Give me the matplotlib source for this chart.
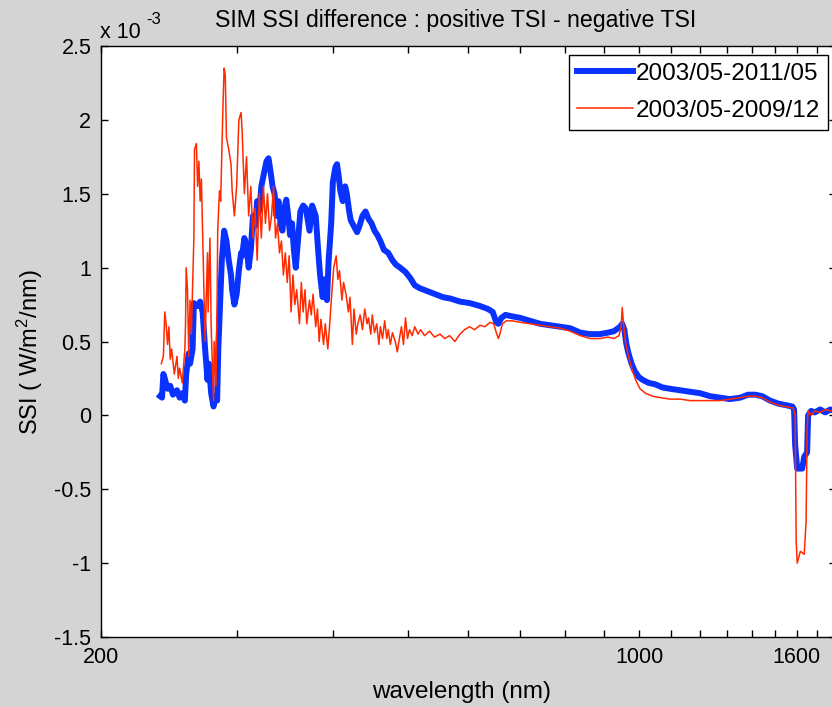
import numpy as np
import matplotlib
matplotlib.use("Agg")
import matplotlib.pyplot as plt
from matplotlib.ticker import FixedLocator, NullFormatter

plt.rcParams["font.family"] = ["Liberation Sans", "DejaVu Sans"]
plt.rcParams["mathtext.fontset"] = "custom"
plt.rcParams["mathtext.rm"] = "Liberation Sans"
plt.rcParams["mathtext.it"] = "Liberation Sans"

# SSI difference, units of 1e-3 W/m^2/nm
wl_long = [238.6, 240, 241, 242, 244, 246, 248, 251, 253, 255, 257, 258, 260, 261, 263, 264, 267, 269, 271, 273,
           275, 276, 278, 280, 281, 283, 284, 286, 287, 289, 291, 293, 295, 296, 298, 300, 302, 304, 305, 307,
           309, 311, 313, 315, 317, 319, 321, 323, 325, 328, 330, 332, 334, 336, 338, 340, 342, 344, 346, 348,
           350, 352, 354, 356, 358, 360, 363, 366, 369, 373, 376, 380, 383, 385, 388, 390, 393, 395, 398, 400,
           403, 405, 407, 409, 412, 415, 417, 420, 422, 426, 430, 433, 437, 441, 445, 449, 453, 457, 461, 466,
           472, 478, 483, 489, 497, 504, 511, 519, 531, 543, 556, 569, 585, 602, 621, 636, 645, 652, 656, 662,
           670, 684, 700, 721, 743, 766, 789, 813, 838, 863, 889, 910, 927, 944, 950, 956, 962, 968, 977, 986,
           998, 1010, 1028, 1049, 1070, 1096, 1130, 1164, 1199, 1235, 1273, 1311, 1352, 1384, 1414, 1443, 1478,
           1514, 1546, 1580, 1588, 1593, 1603, 1627, 1637, 1651, 1656, 1671, 1689, 1717, 1743, 1770, 1800]
ssi_long = [0.13, 0.12, 0.28, 0.25, 0.18, 0.20, 0.14, 0.17, 0.12, 0.15, 0.10, 0.28, 0.42, 0.35, 0.45, 0.76, 0.74,
            0.77, 0.70, 0.45, 0.24, 0.35, 0.15, 0.06, 0.12, 0.10, 0.45, 0.85, 1.05, 1.25, 1.18, 1.05, 0.95, 0.85,
            0.75, 0.82, 0.98, 1.10, 1.08, 1.20, 1.15, 1.00, 1.12, 1.35, 1.28, 1.45, 1.38, 1.55, 1.62, 1.72, 1.74,
            1.65, 1.55, 1.50, 1.35, 1.45, 1.30, 1.25, 1.40, 1.46, 1.35, 1.22, 1.30, 1.12, 1.00, 1.15, 1.38, 1.42,
            1.40, 1.25, 1.42, 1.35, 1.10, 0.95, 0.80, 0.92, 0.78, 1.05, 1.30, 1.58, 1.68, 1.70, 1.62, 1.52, 1.45,
            1.55, 1.50, 1.38, 1.32, 1.28, 1.24, 1.28, 1.35, 1.38, 1.33, 1.30, 1.25, 1.22, 1.18, 1.12, 1.10, 1.05,
            1.02, 1.00, 0.97, 0.93, 0.88, 0.86, 0.84, 0.82, 0.80, 0.79, 0.77, 0.76, 0.74, 0.72, 0.70, 0.63, 0.62,
            0.66, 0.68, 0.67, 0.66, 0.64, 0.62, 0.61, 0.60, 0.59, 0.56, 0.55, 0.55, 0.56, 0.57, 0.60, 0.62, 0.58,
            0.48, 0.42, 0.35, 0.30, 0.26, 0.24, 0.22, 0.21, 0.19, 0.18, 0.17, 0.16, 0.15, 0.13, 0.12, 0.11, 0.12,
            0.14, 0.14, 0.13, 0.10, 0.08, 0.07, 0.06, 0.04, -0.20, -0.36, -0.36, -0.28, -0.25, 0.00, 0.03, 0.02,
            0.04, 0.02, 0.04, 0.03]

wl_short = [239.5, 241, 242, 243, 244, 245, 246, 247, 249, 251, 252, 253, 255, 257, 257.5, 258, 259, 260, 261, 262,
            264, 264.5, 266, 267, 268, 269, 270, 272, 273, 275, 275.5, 277, 278, 280, 280.5, 282, 283, 283.5, 285,
            286, 288, 289, 290, 291, 293, 295, 296, 298, 300, 302, 304, 305, 307, 309, 311, 313, 315, 317, 319, 321,
            323, 325, 327, 329, 331, 333, 335, 337, 339, 341, 343, 345, 347, 349, 351, 353, 355, 357, 359, 362, 364,
            366, 368, 370, 373, 375, 377, 380, 382, 384, 386, 389, 391, 394, 396, 399, 401, 404, 406, 408, 411, 413,
            416, 419, 421, 424, 426, 429, 431, 434, 437, 440, 443, 445, 448, 450, 453, 456, 459, 461, 464, 467, 470,
            472, 475, 478, 482, 485, 488, 491, 494, 497, 500, 503, 507, 511, 516, 520, 526, 534, 542, 551, 559, 567,
            576, 585, 593, 602, 611, 621, 630, 640, 647, 652, 656, 659, 664, 672, 684, 700, 721, 743, 766, 789, 813,
            838, 863, 889, 910, 927, 941, 947, 950, 953, 959, 968, 977, 989, 1002, 1018, 1040, 1064, 1096, 1130, 1164,
            1199, 1235, 1273, 1311, 1352, 1384, 1414, 1443, 1478, 1514, 1546, 1584, 1593, 1598, 1603, 1618, 1637,
            1646, 1651, 1656, 1671, 1689, 1717, 1743, 1770, 1800]
ssi_short = [0.35, 0.40, 0.70, 0.62, 0.48, 0.60, 0.38, 0.45, 0.28, 0.40, 0.25, 0.32, 0.22, 0.45, 0.62, 1.00, 0.85,
             0.40, 0.78, 0.55, 1.20, 1.80, 1.84, 1.55, 1.72, 1.45, 1.60, 0.85, 0.50, 1.10, 0.70, 1.20, 0.60, 0.10,
             0.50, 0.20, 0.80, 1.25, 1.52, 1.45, 2.10, 2.35, 2.30, 1.88, 1.80, 1.70, 1.52, 1.35, 1.55, 2.00, 2.05,
             1.92, 1.50, 1.75, 1.35, 1.55, 1.20, 1.40, 1.05, 1.50, 1.20, 1.55, 1.30, 1.50, 1.25, 1.35, 1.55, 1.20,
             1.30, 1.10, 1.18, 0.95, 1.10, 0.90, 1.08, 0.70, 0.95, 0.75, 0.85, 0.62, 0.90, 0.70, 0.85, 0.62, 0.78,
             0.68, 0.82, 0.60, 0.72, 0.50, 0.65, 0.48, 0.62, 0.45, 0.60, 0.85, 1.00, 1.08, 0.92, 0.98, 0.78, 0.90,
             0.82, 0.70, 0.80, 0.48, 0.72, 0.55, 0.62, 0.68, 0.58, 0.72, 0.62, 0.66, 0.55, 0.68, 0.56, 0.62, 0.48,
             0.60, 0.52, 0.64, 0.52, 0.58, 0.48, 0.56, 0.50, 0.43, 0.52, 0.60, 0.48, 0.66, 0.52, 0.58, 0.54, 0.60,
             0.55, 0.58, 0.54, 0.57, 0.53, 0.55, 0.52, 0.54, 0.50, 0.55, 0.58, 0.60, 0.58, 0.61, 0.60, 0.63, 0.62,
             0.56, 0.52, 0.55, 0.62, 0.64, 0.64, 0.63, 0.62, 0.61, 0.60, 0.59, 0.57, 0.54, 0.52, 0.52, 0.53, 0.52,
             0.54, 0.60, 0.73, 0.64, 0.50, 0.40, 0.32, 0.24, 0.18, 0.15, 0.13, 0.12, 0.11, 0.11, 0.10, 0.10, 0.10,
             0.10, 0.11, 0.12, 0.13, 0.13, 0.12, 0.09, 0.07, 0.06, 0.05, 0.00, -0.85, -1.00, -0.92, -0.94, -0.72,
             -0.10, 0.03, 0.00, 0.03, 0.02, 0.04, 0.03, 0.03]

labels = ["2003/05-2011/05", "2003/05-2009/12"]
x_major = [200, 1000, 1600]
x_minor = [300, 400, 500, 600, 700, 800, 900, 1100, 1200, 1300, 1400, 1500, 1700]
y_ticks = [-1.5, -1, -0.5, 0, 0.5, 1, 1.5, 2, 2.5]

W, H = 832, 707
fig = plt.figure(figsize=(W / 100, H / 100), dpi=100, facecolor="#d4d4d4")
ax = fig.add_axes([101 / W, 1 - 637 / H, 735 / W, 591 / H])

ax.plot(wl_long, np.array(ssi_long) * 1e-3, color="#0a32ff", lw=4.3, label=labels[0])
ax.plot(wl_short, np.array(ssi_short) * 1e-3, color="#ff2a00", lw=1.1, label=labels[1])

ax.set_xscale("log")
ax.set_xlim(200, 1800)
ax.set_ylim(-1.5e-3, 2.5e-3)
ax.xaxis.set_major_locator(FixedLocator(x_major))
ax.xaxis.set_minor_locator(FixedLocator(x_minor))
ax.xaxis.set_minor_formatter(NullFormatter())
ax.set_xticklabels([str(v) for v in x_major])
ax.set_yticks(np.array(y_ticks) * 1e-3)
ax.set_yticklabels([f"{v:g}" for v in y_ticks])
ax.tick_params(which="both", direction="in", top=True, right=True, length=5, width=1,
               labelsize=15.5, pad=7)
for s in ax.spines.values():
    s.set_linewidth(1)

fig.text(456 / W, 1 - 20 / H, "SIM SSI difference : positive TSI - negative TSI", ha="center", va="center",
         fontsize=16.7)
fig.text(462 / W, 1 - 692 / H, "wavelength (nm)", ha="center", va="center", fontsize=17.5)
fig.text(30 / W, 1 - 352 / H, "SSI ( W/m$^{2}$/nm)", ha="center", va="center", rotation=90, fontsize=17)
fig.text(100 / W, 1 - 33 / H, "x 10", ha="left", va="center", fontsize=15.5)
fig.text(146 / W, 1 - 19 / H, "-3", ha="left", va="center", fontsize=12)

leg = ax.legend(loc="upper right", bbox_to_anchor=(828 / W, 1 - 55 / H), bbox_transform=fig.transFigure,
                fontsize=17.5, fancybox=False, framealpha=1, edgecolor="black", borderaxespad=0,
                handlelength=2.3, handletextpad=0.12, labelspacing=0.62, borderpad=0.32)
leg.get_frame().set_linewidth(1)

fig.savefig("out.png", dpi=100, facecolor=fig.get_facecolor())
